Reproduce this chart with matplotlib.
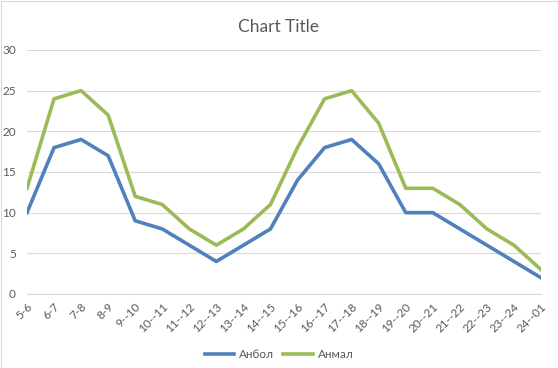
import matplotlib
matplotlib.use("Agg")
import matplotlib.pyplot as plt

plt.rcParams['font.family'] = ['Lato', 'DejaVu Sans']

categories = ["5-6", "6-7", "7-8", "8-9", "9--10", "10--11", "11--12", "12--13", "13--14",
              "14--15", "15--16", "16--17", "17--18", "18--19", "19--20", "20--21", "21--22",
              "22--23", "23--24", "24--01"]
anbol = [10, 18, 19, 17, 9, 8, 6, 4, 6, 8, 14, 18, 19, 16, 10, 10, 8, 6, 4, 2]
anmal = [13, 24, 25, 22, 12, 11, 8, 6, 8, 11, 18, 24, 25, 21, 13, 13, 11, 8, 6, 3]
yticks = [0, 5, 10, 15, 20, 25, 30]

fig = plt.figure(figsize=(5.58, 3.68), dpi=100)
ax = fig.add_axes([27/558, 74/368, (541-27)/558, (294-50)/368])

x = list(range(len(categories)))
ax.plot(x, anbol, color="#4F81BD", lw=2.6, label="Анбол", solid_joinstyle='round')
ax.plot(x, anmal, color="#9BBB59", lw=2.6, label="Анмал", solid_joinstyle='round')

ax.set_xlim(0, len(categories) - 1)
ax.set_ylim(0, 30)
ax.set_yticks(yticks)
ax.set_xticks(x)
ax.set_xticklabels(categories, rotation=45, ha='right', rotation_mode='anchor')
ax.grid(axis='y', color="#D9D9D9", lw=0.8)
ax.set_axisbelow(True)
for s in ['top', 'right', 'left']:
    ax.spines[s].set_visible(False)
ax.spines['bottom'].set_color("#D9D9D9")
ax.tick_params(axis='both', length=0, labelsize=8.5, colors="#595959")
ax.tick_params(axis='y', pad=8)
ax.tick_params(axis='x', pad=5)

fig.text(0.5, 1 - 27/368, "Chart Title", ha='center', va='center', fontsize=12.5, color="#595959")
fig.legend(loc='center', bbox_to_anchor=(0.5, 1 - 355/368), ncol=2, frameon=False,
           fontsize=8.5, labelcolor="#595959", handlelength=2.5, columnspacing=0.8, handletextpad=0.4)

border = plt.Rectangle((0.5/558, 0.5/368), 1 - 1/558, 1 - 1/368, transform=fig.transFigure,
                       fill=False, edgecolor="#D9D9D9", lw=0.8)
fig.patches.append(border)

fig.savefig("out.png", dpi=100)
